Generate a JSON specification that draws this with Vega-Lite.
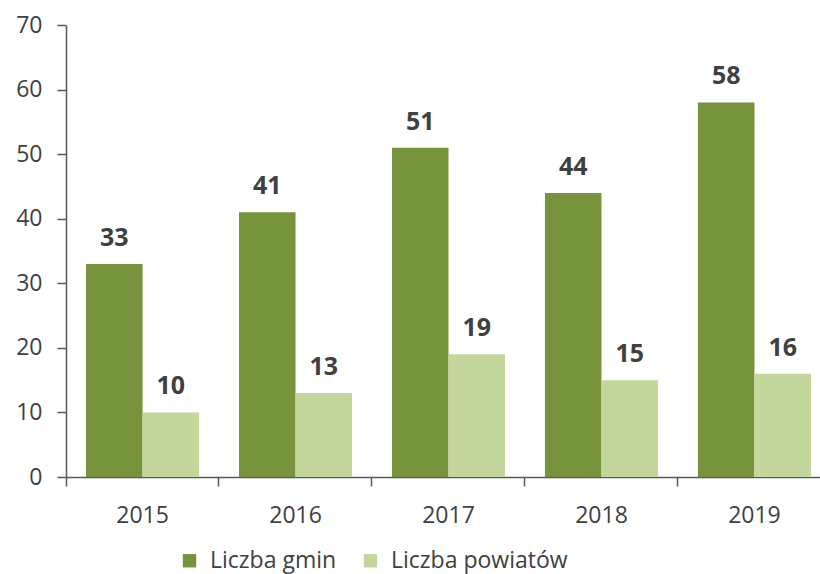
{
  "$schema": "https://vega.github.io/schema/vega-lite/v6.json",
  "autosize": "none",
  "width": 754,
  "height": 452,
  "padding": {"left": 66, "top": 25, "right": 0, "bottom": 97},
  "background": "white",
  "config": {
    "view": {"stroke": null},
    "font": "Open Sans",
    "axis": {"domainColor": "#595959", "tickColor": "#595959", "labelColor": "#404040", "labelFont": "Open Sans", "labelFontSize": 23, "grid": false, "domainWidth": 1.5, "tickWidth": 1.5}
  },
  "data": {
    "values": [
      {"year": "2015", "series": "Liczba gmin", "value": 33},
      {"year": "2015", "series": "Liczba powiatów", "value": 10},
      {"year": "2016", "series": "Liczba gmin", "value": 41},
      {"year": "2016", "series": "Liczba powiatów", "value": 13},
      {"year": "2017", "series": "Liczba gmin", "value": 51},
      {"year": "2017", "series": "Liczba powiatów", "value": 19},
      {"year": "2018", "series": "Liczba gmin", "value": 44},
      {"year": "2018", "series": "Liczba powiatów", "value": 15},
      {"year": "2019", "series": "Liczba gmin", "value": 58},
      {"year": "2019", "series": "Liczba powiatów", "value": 16}
    ]
  },
  "encoding": {
    "x": {
      "field": "year", "type": "nominal", "title": null,
      "scale": {"paddingInner": 0.261, "paddingOuter": 0.131, "range": [0, 765]},
      "axis": {"labelAngle": 0, "bandPosition": -0.177, "tickSize": 9, "labelPadding": 18}
    },
    "xOffset": {"field": "series", "type": "nominal", "sort": ["Liczba gmin", "Liczba powiatów"]},
    "y": {
      "field": "value", "type": "quantitative", "title": null,
      "scale": {"domain": [0, 70], "nice": false},
      "axis": {"values": [0, 10, 20, 30, 40, 50, 60, 70], "tickSize": 9, "labelPadding": 15}
    }
  },
  "layer": [
    {
      "mark": {"type": "bar"},
      "encoding": {
        "color": {
          "field": "series", "type": "nominal", "sort": ["Liczba gmin", "Liczba powiatów"],
          "scale": {"domain": ["Liczba gmin", "Liczba powiatów"], "range": ["#77933C", "#C3D69B"]},
          "legend": {
            "title": null, "orient": "none", "direction": "horizontal",
            "legendX": 112, "legendY": 524,
            "symbolType": "square", "symbolSize": 180, "symbolStrokeWidth": 0,
            "labelFontSize": 23, "labelColor": "#404040", "labelFont": "Open Sans", "labelLimit": 400,
            "columnPadding": 22, "symbolOffset": 0, "labelOffset": 9
          }
        }
      }
    },
    {
      "mark": {"type": "text", "baseline": "bottom", "dy": -13, "fontSize": 25, "fontWeight": "bold", "color": "#404040", "font": "Open Sans"},
      "encoding": {"text": {"field": "value", "type": "quantitative"}}
    }
  ]
}
